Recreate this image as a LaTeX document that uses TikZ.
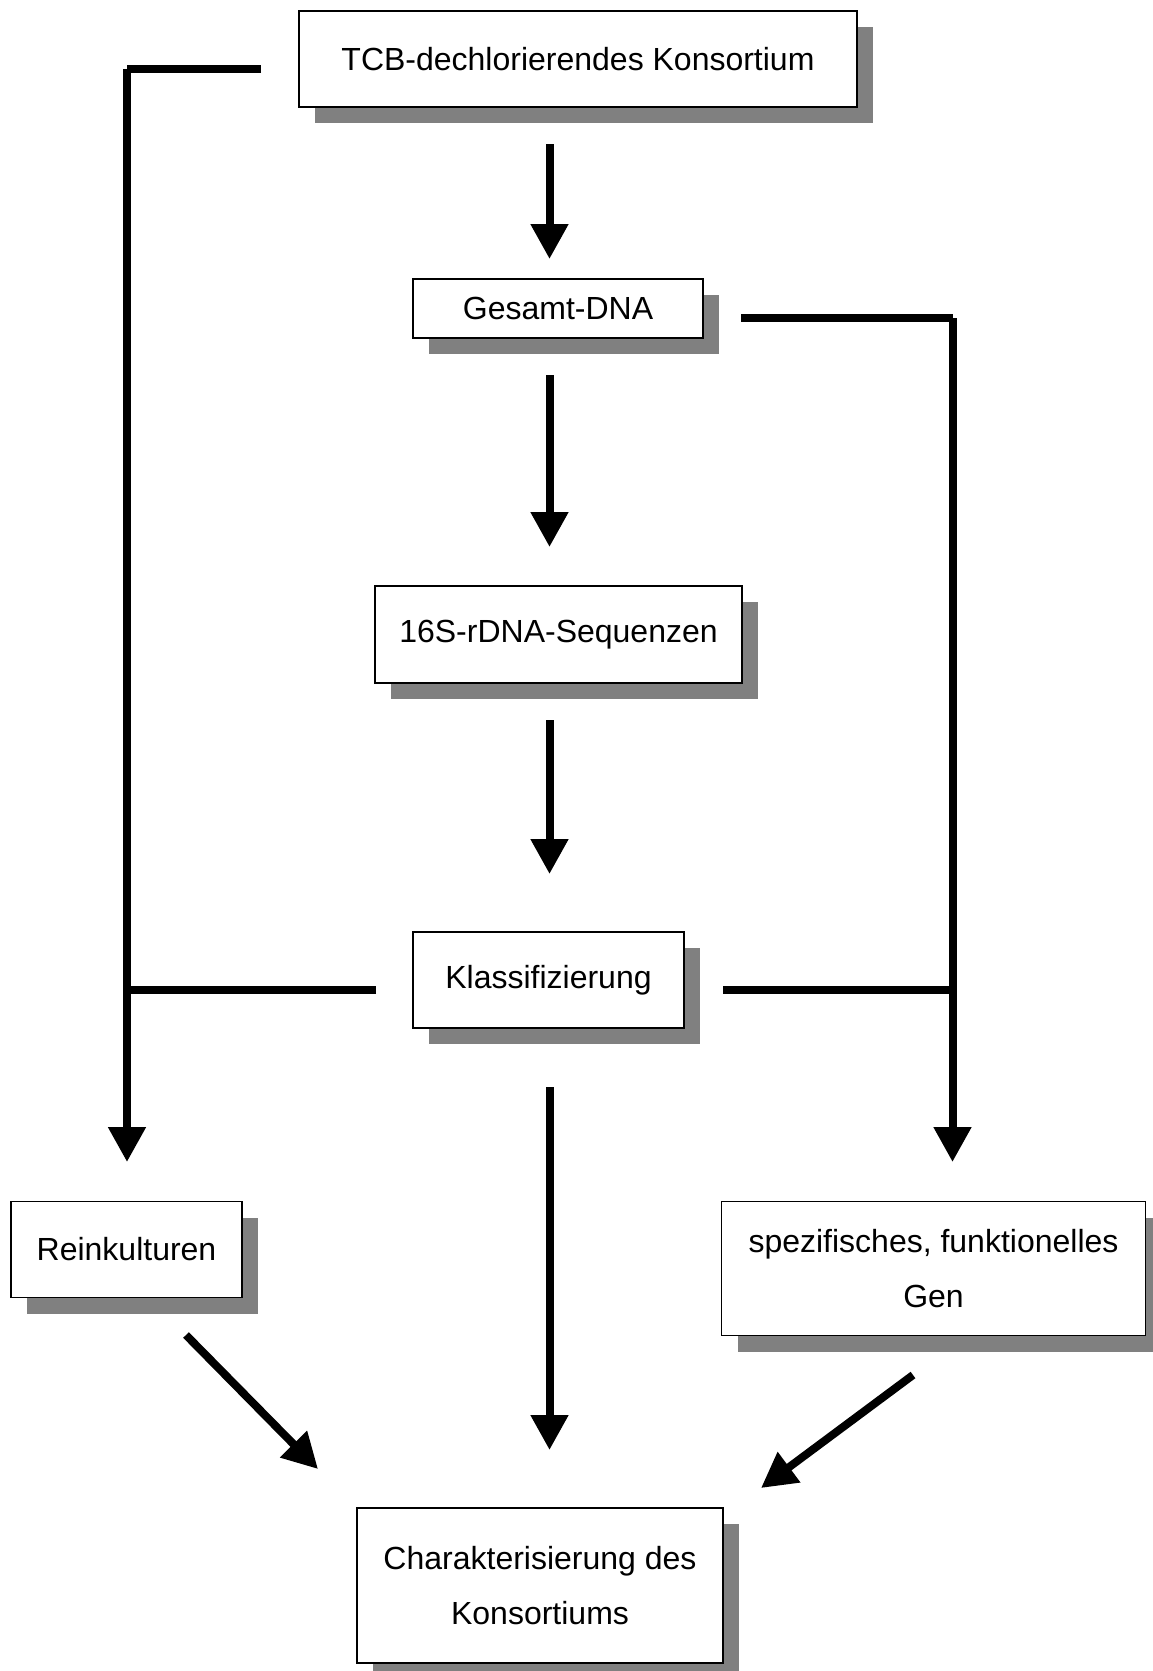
\documentclass[tikz,border=0pt]{standalone}
\usepackage{fontspec}
\setmainfont{Liberation Sans}
\usetikzlibrary{arrows.meta,shadows}
\begin{document}
\begin{tikzpicture}[x=1pt,y=-1pt,
  box/.style={draw=black, line width=1.6pt, fill=white, inner sep=0pt, align=center,
    font=\fontsize{32}{55}\selectfont,
    drop shadow={shadow xshift=16pt, shadow yshift=-16pt, fill=black!50, opacity=1}},
  conn/.style={line width=8pt, line cap=butt},
  arr/.style={conn, -{Triangle[width=36pt,length=35pt]}}]
\useasboundingbox (0,0) rectangle (1152,1671);
\fill[white] (0,0) rectangle (1152,1671);

% boxes
\node[box, minimum width=558pt, minimum height=96pt] (top) at (578,59) {TCB-dechlorierendes Konsortium};
\node[box, minimum width=290pt, minimum height=59pt] (gesamt) at (558,308.5) {Gesamt-DNA};
\node[box, minimum width=367pt, minimum height=97pt] (seq) at (558.5,634.5) {16S-rDNA-Sequenzen};
\node[box, minimum width=271pt, minimum height=96pt] (klass) at (548.5,980) {Klassifizierung};
\node[box, minimum width=231pt, minimum height=96pt] (rein) at (126.5,1249.5) {Reinkulturen};
\node[box, minimum width=424pt, minimum height=134pt] (spez) at (933.5,1268.5) {spezifisches, funktionelles\\Gen};
\node[box, minimum width=366pt, minimum height=155pt] (char) at (540,1585.5) {Charakterisierung des\\Konsortiums};

% free ends of connectors
\coordinate (a1s) at (549.5,144);  \coordinate (a1e) at (549.5,259);
\coordinate (a2s) at (549.5,375);  \coordinate (a2e) at (549.5,547);
\coordinate (a3s) at (549.5,720);  \coordinate (a3e) at (549.5,874);
\coordinate (a4s) at (549.5,1087); \coordinate (a4e) at (549.5,1450);

\coordinate (lh1) at (261,68.5);  \coordinate (lc) at (127,68.5);
\coordinate (lv1) at (127,68.5);  \coordinate (lv2) at (127,1162);
\coordinate (lb1) at (376,990);   \coordinate (lb2) at (127,990);

\coordinate (rh1) at (741,318);   \coordinate (rc) at (952.5,318);
\coordinate (rv2) at (952.5,1162);
\coordinate (rb1) at (723,990);   \coordinate (rb2) at (952.5,990);

\coordinate (d1s) at (186,1335);  \coordinate (d1e) at (318,1469);
\coordinate (d2s) at (913,1375);  \coordinate (d2e) at (761,1488);

% central arrows
\draw[arr] (a1s) -- (a1e);
\draw[arr] (a2s) -- (a2e);
\draw[arr] (a3s) -- (a3e);
\draw[arr] (a4s) -- (a4e);

% left branch
\draw[conn] (lh1) -- (lc);
\draw[arr] (lv1) -- (lv2);
\draw[conn] (lb1) -- (lb2);

% right branch
\draw[conn] (rh1) -- (rc);
\draw[arr] (rc) -- (rv2);
\draw[conn] (rb1) -- (rb2);

% diagonals
\draw[arr] (d1s) -- (d1e);
\draw[arr] (d2s) -- (d2e);
\end{tikzpicture}
\end{document}
